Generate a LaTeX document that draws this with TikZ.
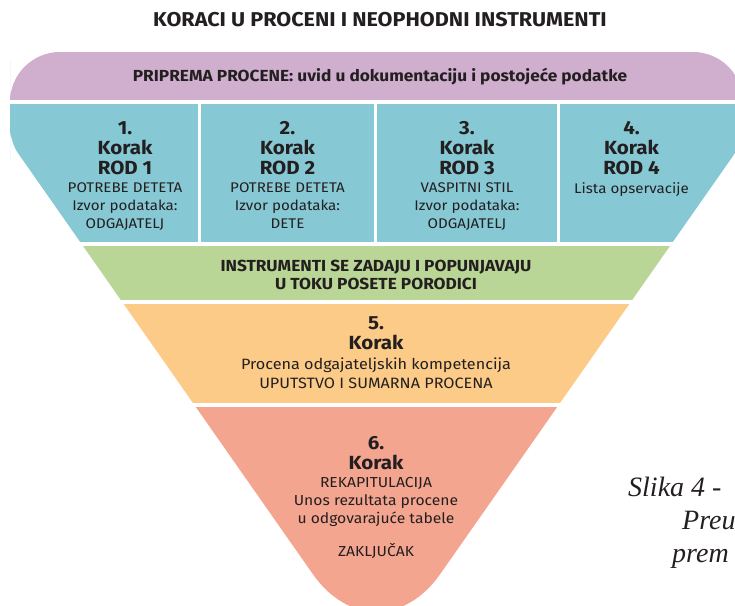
\documentclass[tikz,border=0pt]{standalone}
\usepackage{fontspec}
\setmainfont{Fira Sans}[FakeStretch=1.08]
\newfontfamily\captionserif{Liberation Serif}
\usetikzlibrary{positioning}

\definecolor{prepcol}{HTML}{CFAECE}
\definecolor{rodcol}{HTML}{86C8D4}
\definecolor{instcol}{HTML}{B9D696}
\definecolor{stepfivecol}{HTML}{FCCB88}
\definecolor{stepsixcol}{HTML}{F4A58F}
\definecolor{inkcol}{HTML}{231F20}

\tikzset{
  steptitle/.style={font=\fontsize{19}{20}\selectfont\bfseries, align=center, inner sep=0pt, text=inkcol},
  stepnote/.style={font=\fontsize{14}{18}\selectfont, align=center, inner sep=0pt, text=inkcol},
  bandhead/.style={font=\fontsize{16}{18}\selectfont\bfseries, align=center, inner sep=0pt, text=inkcol},
  capline/.style={font=\captionserif\itshape\fontsize{28}{33}\selectfont, anchor=base west, inner sep=0pt, text=inkcol}
}

\begin{document}
\begin{tikzpicture}[x=1pt, y=-1pt]
    % page
    \useasboundingbox (0,0) rectangle (735,605);
    \clip (0,0) rectangle (735,605);

    % heading
    \node[font=\fontsize{20}{22}\selectfont\bfseries, text=inkcol, inner sep=0pt] (title) at (380,20) {KORACI U PROCENI I NEOPHODNI INSTRUMENTI};

    % funnel: bands cut out by the outline
    \begin{scope}
        \clip (376.5,52) [rounded corners=50pt] -- (10,52) -- (10,110)
            [rounded corners=14pt] -- (10,141.7) -- (119.95,298.7)
            [rounded corners=111pt] -- (376.5,665) -- (633.05,298.7)
            [rounded corners=14pt] -- (743,141.7) -- (743,110)
            [rounded corners=50pt] -- (743,52) -- cycle;
        \foreach \top/\bot/\col in {52/100/prepcol, 104/242/rodcol, 246/300/instcol, 304/403/stepfivecol, 407/700/stepsixcol}
        {
            \fill[\col] (0,\top) rectangle (760,\bot);
        }
        % white gaps between the four columns
        \foreach \gx in {199.5,375.5,558.5}
        {
            \fill[white] (\gx-1.5,104) rectangle (\gx+1.5,242);
        }
    \end{scope}

    % preparation band
    \node[bandhead] (prep) at (380,77) {PRIPREMA PROCENE: uvid u dokumentaciju i postojeće podatke};

    % steps 1-4
    \foreach \i/\cx/\note in {1/125/{POTREBE DETETA\\Izvor podataka:\\ODGAJATELJ},
                             2/287.5/{POTREBE DETETA\\Izvor podataka:\\DETE},
                             3/467/{VASPITNI STIL\\Izvor podataka:\\ODGAJATELJ},
                             4/631.5/{Lista opservacije}}
    {
        \node[steptitle] (rod\i) at (\cx,148) {\i.\\Korak\\ROD \i};
        \node[stepnote, below=7.5pt of rod\i] (note\i) {\note};
    }

    % instruments band
    \node[bandhead] (inst) at (376,275) {INSTRUMENTI SE ZADAJU I POPUNJAVAJU\\U TOKU POSETE PORODICI};

    % step 5
    \node[steptitle] (step5) at (376,333.5) {5.\\Korak};
    \node[stepnote, font=\fontsize{15}{18.5}\selectfont, below=7.5pt of step5] (note5) {Procena odgajateljskih kompetencija\\UPUTSTVO I SUMARNA PROCENA};

    % step 6
    \node[steptitle] (step6) at (376,453) {6.\\Korak};
    \node[stepnote, font=\fontsize{14.5}{18}\selectfont, below=7.5pt of step6] (note6) {REKAPITULACIJA\\Unos rezultata procene\\u odgovarajuće tabele\\[15pt]ZAKLJUČAK};

    % caption, cut off at the right edge
    \node[capline] (cap1) at (628,496) {Slika 4 -};
    \node[capline] (cap2) at (682,529) {Preu};
    \node[capline] (cap3) at (672,562) {prem};
\end{tikzpicture}
\end{document}
